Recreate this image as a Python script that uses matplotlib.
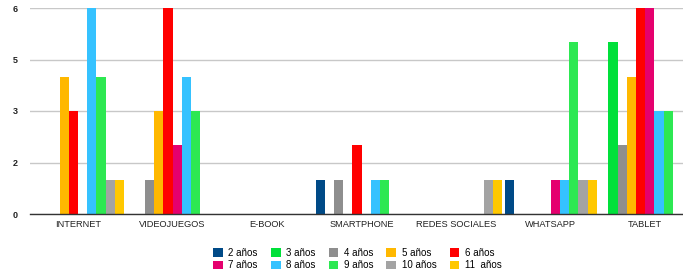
import matplotlib
matplotlib.use("Agg")
import matplotlib.pyplot as plt
import numpy as np
from matplotlib.patches import Patch

plt.rcParams['font.family'] = ['Liberation Sans', 'DejaVu Sans']

categories = ["INTERNET", "VIDEOJUEGOS", "E-BOOK", "SMARTPHONE", "REDES SOCIALES", "WHATSAPP", "TABLET"]
series_labels = ["2 años", "3 años", "4 años", "5 años", "6 años",
                 "7 años", "8 años", "9 años", "10 años", "11  años"]
colors = ["#004A87", "#00E03A", "#8E8E8E", "#FFB800", "#FF0000",
          "#E5006E", "#35C2FF", "#2DE852", "#A3A3A3", "#FFC800"]

# values per age series, across categories
v_2 = [0, 0, 0, 1, 0, 1, 0]
v_3 = [0, 0, 0, 0, 0, 0, 5]
v_4 = [0, 1, 0, 1, 0, 0, 2]
v_5 = [4, 3, 0, 0, 0, 0, 4]
v_6 = [3, 6, 0, 2, 0, 0, 6]
v_7 = [0, 2, 0, 0, 0, 1, 6]
v_8 = [6, 4, 0, 1, 0, 1, 3]
v_9 = [4, 3, 0, 1, 0, 5, 3]
v_10 = [1, 0, 0, 0, 1, 1, 0]
v_11 = [1, 0, 0, 0, 1, 1, 0]
series = [v_2, v_3, v_4, v_5, v_6, v_7, v_8, v_9, v_10, v_11]

ytick_values = [0, 1.5, 3, 4.5, 6]
ytick_labels = ["0", "2", "3", "5", "6"]

fig = plt.figure(figsize=(6.83, 2.74), dpi=100)
ax = fig.add_axes([30/683, 60/274, 653/683, 206/274])

x = np.arange(len(categories))
w = 0.0975
n = len(series)
for j, (vals, c, lab) in enumerate(zip(series, colors, series_labels)):
    ax.bar(x + (j - (n - 1) / 2) * w, vals, width=w, color=c, label=lab, zorder=3, linewidth=0)

ax.set_xlim(-0.508, 6.40)
ax.set_ylim(0, 6)
ax.set_yticks(ytick_values)
ax.set_yticklabels(ytick_labels, fontsize=6.5, fontweight='bold', color='#222222')
ax.set_xticks(x)
ax.set_xticklabels(categories, fontsize=6.7, color='#222222')
ax.tick_params(axis='both', length=0)
ax.tick_params(axis='y', pad=9)
ax.tick_params(axis='x', pad=4.5)
for s in ["top", "right", "left"]:
    ax.spines[s].set_visible(False)
ax.spines["bottom"].set_color("#333333")
ax.spines["bottom"].set_linewidth(1.0)
ax.spines["bottom"].set_zorder(4)
ax.yaxis.grid(True, color="#C8C8C8", linewidth=1.0, zorder=0)
ax.set_axisbelow(True)

handles = [Patch(facecolor=c, edgecolor='none') for c in colors]
order = [0, 5, 1, 6, 2, 7, 3, 8, 4, 9]
fig.legend([handles[i] for i in order], [series_labels[i] for i in order],
           loc='center', bbox_to_anchor=(0.523, 0.054), ncol=5, frameon=False,
           fontsize=7, handlelength=1.0, handleheight=1.0, handletextpad=0.55,
           columnspacing=1.37, labelspacing=0.25, borderpad=0)

fig.savefig("out.png", dpi=100)
